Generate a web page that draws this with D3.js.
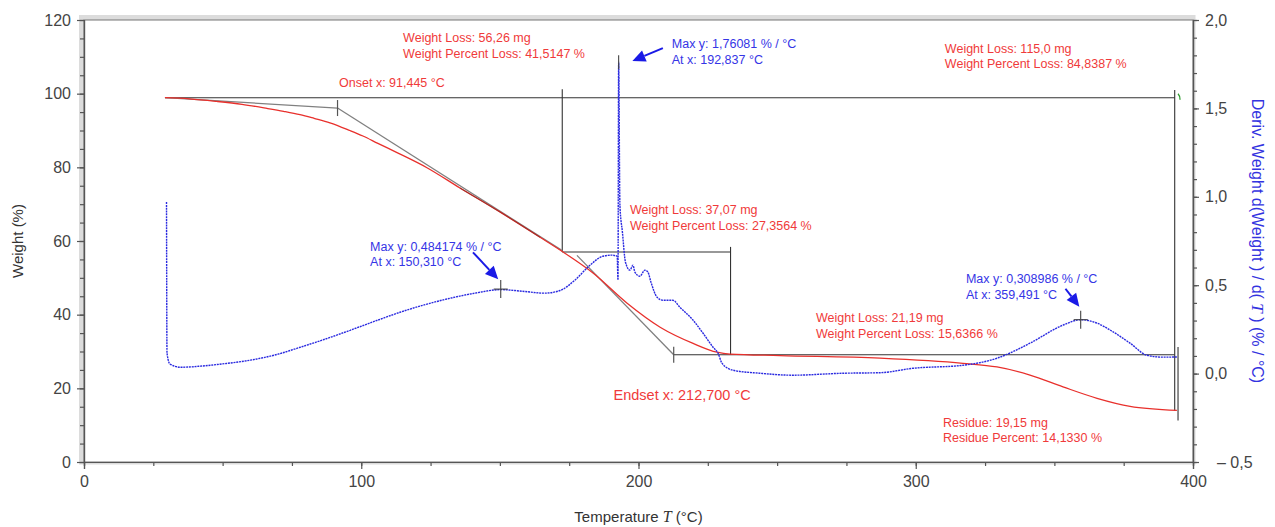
<!DOCTYPE html>
<html><head><meta charset="utf-8">
<script src="https://cdn.jsdelivr.net/npm/d3@7"></script>
<style>body{margin:0;background:#fff}svg{display:block;font-family:"Liberation Sans",Arial,sans-serif}</style>
</head><body><svg id="c" width="1275" height="527"></svg>
<script>
// ---------- data ----------
const xTicks = [0, 100, 200, 300, 400];
const yLeftTicks = [0, 20, 40, 60, 80, 100, 120];
const yRightTicks = [-0.5, 0, 0.5, 1.0, 1.5, 2.0];

// Weight (%) vs temperature (°C)
const weightT   = [29.2, 38, 47.9, 57, 66.0, 72, 77.9, 83, 88.7, 95.9, 100.6, 106, 112.9, 123.7, 135.6, 150, 164.5, 172.8, 183.6, 195.9, 207.8, 219.7, 228.3, 233, 251, 287.1, 317, 329.3, 341.2, 353.1, 365.4, 377.3, 394.2];
const weightPct = [98.9, 98.6, 97.9, 97.1, 96.0, 95.2, 94.3, 93.3, 92.1, 90.0, 88.5, 86.5, 84.0, 79.9, 74.4, 67.9, 61.0, 57.0, 51.3, 43.1, 36.6, 32.2, 29.8, 29.3, 28.9, 28.2, 26.8, 25.8, 23.6, 20.4, 17.3, 15.1, 14.0];

// Derivative weight (%/°C) vs temperature (°C)
const derivT   = [29.76, 29.94, 31.0, 35, 42, 50, 60, 70, 78, 87, 96, 105, 114, 123, 132, 141, 150.3, 158, 166, 171.7, 177, 182.5, 187.2, 190.4, 192.3, 192.6, 192.84, 193.3, 194.2, 195.3, 196.9, 198.0, 198.7, 200.5, 202.3, 203.4, 204.5, 206.7, 208.8, 212.4, 214.9, 219.7, 223.3, 226.9, 228.7, 230.1, 234.1, 243.8, 255.7, 273.8, 287.1, 299, 317, 329.3, 341.2, 353.1, 359.5, 365.4, 371.2, 377.3, 383.4, 389.2, 394.2];
const derivVal = [0.97, 0.116, 0.054, 0.036, 0.042, 0.055, 0.076, 0.11, 0.149, 0.195, 0.245, 0.297, 0.347, 0.39, 0.426, 0.455, 0.475, 0.466, 0.455, 0.47, 0.528, 0.613, 0.664, 0.67, 0.664, 0.53, 1.761, 0.95, 0.8, 0.63, 0.585, 0.613, 0.574, 0.551, 0.585, 0.574, 0.517, 0.432, 0.415, 0.415, 0.376, 0.302, 0.228, 0.149, 0.115, 0.059, 0.019, 0.002, -0.009, 0.002, 0.005, 0.03, 0.047, 0.087, 0.172, 0.274, 0.305, 0.285, 0.236, 0.172, 0.104, 0.093, 0.094];

// step / analysis lines (T1, W1, T2, W2) in weight units
const stepSegs = [
  [29.2, 98.9, 393.4, 98.9],
  [172.5, 101.2, 172.5, 57.0],
  [172.5, 57.0, 233.2, 57.0],
  [233.2, 58.4, 233.2, 29.1],
  [212.7, 29.1, 393.4, 29.1],
  [393.4, 101.0, 393.4, 13.9],
  [394.6, 31.2, 394.6, 11.3]
];
const tangentSegs = [
  [29.2, 98.9, 91.445, 96.1],
  [91.445, 96.1, 172.5, 57.4],
  [177.8, 56.1, 212.7, 29.1]
];
const redLabels = [
  [115.1, 113.9, "Weight Loss: 56,26 mg"], [115.1, 109.8, "Weight Percent Loss: 41,5147 %"],
  [92.0, 101.9, "Onset x: 91,445 °C"],
  [310.5, 111.1, "Weight Loss: 115,0 mg"], [310.5, 107.1, "Weight Percent Loss: 84,8387 %"],
  [196.9, 67.2, "Weight Loss: 37,07 mg"], [196.9, 63.1, "Weight Percent Loss: 27,3564 %"],
  [264.0, 38.0, "Weight Loss: 21,19 mg"], [264.0, 33.8, "Weight Percent Loss: 15,6366 %"],
  [309.8, 9.5, "Residue: 19,15 mg"], [309.8, 5.3, "Residue Percent: 14,1330 %"]
];
const endsetLabel = [191.0, 16.8, "Endset x: 212,700 °C"];
const blueLabels = [
  [212.0, 1.842, "Max y: 1,76081 % / °C"], [212.0, 1.753, "At x: 192,837 °C"],
  [103.2, 0.695, "Max y: 0,484174 % / °C"], [103.2, 0.610, "At x: 150,310 °C"],
  [318.1, 0.513, "Max y: 0,308986 % / °C"], [318.1, 0.424, "At x: 359,491 °C"]
];
// arrows (tail T, tail v, head T, head v) in derivative units
const arrows = [
  [208.8, 1.841, 197.8, 1.768],
  [140.3, 0.686, 149.4, 0.533],
  [354.0, 0.480, 359.0, 0.378]
];
const peaks = [[150.31, 0.478], [359.491, 0.305]];
const spikeTop = [192.837, 1.761];
const onsetT = 91.445, endsetT = 212.7;

// ---------- scales ----------
const svg = d3.select("#c");
const x  = d3.scaleLinear([0, 400], [84, 1193]);
const yL = d3.scaleLinear([0, 120], [462, 20]);
const yR = d3.scaleLinear([-0.5, 2.0], [462, 20]);
const L = x.range()[0], R = x.range()[1], T = yL.range()[1], B = yL.range()[0];

// frame
svg.append("rect").attr("x", L - 2.5).attr("y", T - 2.5).attr("width", R - L + 2.5).attr("height", B - T + 2.5)
  .attr("fill", "none").attr("stroke", "#dcdcdc").attr("stroke-width", 5);
svg.append("rect").attr("x", L).attr("y", T).attr("width", R - L).attr("height", B - T)
  .attr("fill", "#fff").attr("stroke", "#777").attr("stroke-width", 1);

// axes
function styleAxis(g) {
  g.selectAll(".domain").attr("stroke", "#555").attr("stroke-width", 1.2);
  g.selectAll(".tick line").attr("stroke", "#555").attr("stroke-width", 1.2);
  g.selectAll("text").attr("fill", "#444").attr("font-size", 16).attr("font-family", "Liberation Sans, Arial, sans-serif");
}
const gxm = svg.append("g").attr("transform", `translate(0,${B})`)
  .call(d3.axisBottom(x).tickValues(d3.range(0, 401, 25)).tickSize(4).tickFormat("")); styleAxis(gxm);
const gx = svg.append("g").attr("transform", `translate(0,${B})`)
  .call(d3.axisBottom(x).tickValues(xTicks).tickSize(7).tickPadding(7).tickFormat(d3.format("d"))); styleAxis(gx);
const gym = svg.append("g").attr("transform", `translate(${L},0)`)
  .call(d3.axisLeft(yL).tickValues(d3.range(0, 121, 5)).tickSize(4).tickFormat("")); styleAxis(gym);
const gy = svg.append("g").attr("transform", `translate(${L},0)`)
  .call(d3.axisLeft(yL).tickValues(yLeftTicks).tickSize(7).tickPadding(6).tickFormat(d3.format("d"))); styleAxis(gy);
const grm = svg.append("g").attr("transform", `translate(${R},0)`)
  .call(d3.axisRight(yR).tickValues(d3.range(-5, 21, 1).map(d => d / 10)).tickSize(4).tickFormat("")); styleAxis(grm);
const gr = svg.append("g").attr("transform", `translate(${R},0)`)
  .call(d3.axisRight(yR).tickValues(yRightTicks).tickSize(6).tickPadding(6)
    .tickFormat(d => d < 0 ? "– " + d3.format(".1f")(-d).replace(".", ",") : d3.format(".1f")(d).replace(".", ","))); styleAxis(gr);
gr.selectAll(".tick text").filter(d => d < 0).attr("x", 24);

// axis titles
svg.append("text").attr("transform", `translate(23,${(T + B) / 2}) rotate(-90)`).attr("text-anchor", "middle")
  .attr("font-size", 15).attr("fill", "#333").text("Weight (%)");
const xt = svg.append("text").attr("x", (L + R) / 2).attr("y", 522).attr("text-anchor", "middle").attr("font-size", 15).attr("fill", "#333");
xt.append("tspan").text("Temperature ");
xt.append("tspan").attr("font-family", "Liberation Serif, serif").attr("font-style", "italic").attr("font-size", 16).text("T");
xt.append("tspan").text(" (°C)");
const rt = svg.append("text").attr("transform", `translate(1252,${(T + B) / 2}) rotate(90)`).attr("text-anchor", "middle")
  .attr("font-size", 16).attr("fill", "#3333e0");
rt.append("tspan").text("Deriv. Weight d(Weight ) / d( ");
rt.append("tspan").attr("font-family", "Liberation Serif, serif").attr("font-style", "italic").attr("font-size", 17).text("T");
rt.append("tspan").text(" ) (% / °C)");

// step lines
const seg = (g, arr, col, w) => g.selectAll(null).data(arr).join("line")
  .attr("x1", d => x(d[0])).attr("y1", d => yL(d[1])).attr("x2", d => x(d[2])).attr("y2", d => yL(d[3]))
  .attr("stroke", col).attr("stroke-width", w);
const gl = svg.append("g");
seg(gl, stepSegs, "#333", 1.1);
seg(gl, tangentSegs, "#808080", 1.3);
// onset/endset markers
gl.append("line").attr("x1", x(onsetT)).attr("x2", x(onsetT)).attr("y1", yL(96.1) - 8).attr("y2", yL(96.1) + 8).attr("stroke", "#555").attr("stroke-width", 1.2);
gl.append("line").attr("x1", x(endsetT)).attr("x2", x(endsetT)).attr("y1", yL(29.1) - 8).attr("y2", yL(29.1) + 8).attr("stroke", "#555").attr("stroke-width", 1.2);
// small green mark
gl.append("path").attr("d", `M${x(394.6)},${yL(98.9) - 4} q2,2 2,6`).attr("stroke", "#2a9a2a").attr("fill", "none").attr("stroke-width", 1.3);

// weight curve
const wData = weightT.map((t, i) => [t, weightPct[i]]);
svg.append("path").datum(wData).attr("fill", "none").attr("stroke", "#e8302c").attr("stroke-width", 1.3)
  .attr("d", d3.line().x(d => x(d[0])).y(d => yL(d[1])).curve(d3.curveMonotoneX));
// overlap darkening where curve follows tangent
svg.append("path").datum(wData.filter(d => d[0] >= 125 && d[0] <= 172)).attr("fill", "none").attr("stroke", "#8a2a22").attr("stroke-width", 1.1).attr("opacity", 0.7)
  .attr("d", d3.line().x(d => x(d[0])).y(d => yL(d[1])).curve(d3.curveMonotoneX));

// derivative curve
const dData = derivT.map((t, i) => [t, derivVal[i]]);
svg.append("path").datum(dData).attr("fill", "none").attr("stroke", "#2a2ae0").attr("stroke-width", 1.4)
  .attr("stroke-dasharray", "2,0.8")
  .attr("d", d3.line().x(d => x(d[0])).y(d => yR(d[1])).curve(d3.curveMonotoneX));

// peak markers
const gm = svg.append("g").attr("stroke", "#444").attr("stroke-width", 1.1);
peaks.forEach(p => {
  gm.append("line").attr("x1", x(p[0])).attr("x2", x(p[0])).attr("y1", yR(p[1]) - 9).attr("y2", yR(p[1]) + 9);
  gm.append("line").attr("x1", x(p[0]) - 7).attr("x2", x(p[0]) + 7).attr("y1", yR(p[1])).attr("y2", yR(p[1]));
});
gm.append("line").attr("x1", x(spikeTop[0])).attr("x2", x(spikeTop[0])).attr("y1", yR(spikeTop[1]) - 7).attr("y2", yR(spikeTop[1]) + 7);

// arrows
const ga = svg.append("g");
arrows.forEach(a => {
  const x1 = x(a[0]), y1 = yR(a[1]), x2 = x(a[2]), y2 = yR(a[3]);
  const ang = Math.atan2(y2 - y1, x2 - x1), hl = 13, hw = 6;
  const bx = x2 - hl * Math.cos(ang), by = y2 - hl * Math.sin(ang);
  ga.append("line").attr("x1", x1).attr("y1", y1).attr("x2", bx).attr("y2", by).attr("stroke", "#1a1ae6").attr("stroke-width", 2);
  ga.append("polygon").attr("fill", "#1a1ae6").attr("points", [
    [x2, y2], [bx + hw * Math.sin(ang), by - hw * Math.cos(ang)], [bx - hw * Math.sin(ang), by + hw * Math.cos(ang)]
  ].map(p => p.join(",")).join(" "));
});

// labels
svg.append("g").selectAll("text").data(redLabels).join("text")
  .attr("x", d => x(d[0])).attr("y", d => yL(d[1])).attr("font-size", 12.5).attr("fill", "#f03a3a").text(d => d[2]);
svg.append("text").attr("x", x(endsetLabel[0])).attr("y", yL(endsetLabel[1])).attr("font-size", 14.5).attr("fill", "#f03a3a").text(endsetLabel[2]);
svg.append("g").selectAll("text").data(blueLabels).join("text")
  .attr("x", d => x(d[0])).attr("y", d => yR(d[1])).attr("font-size", 12.5).attr("fill", "#3535e6").text(d => d[2]);
</script></body></html>
